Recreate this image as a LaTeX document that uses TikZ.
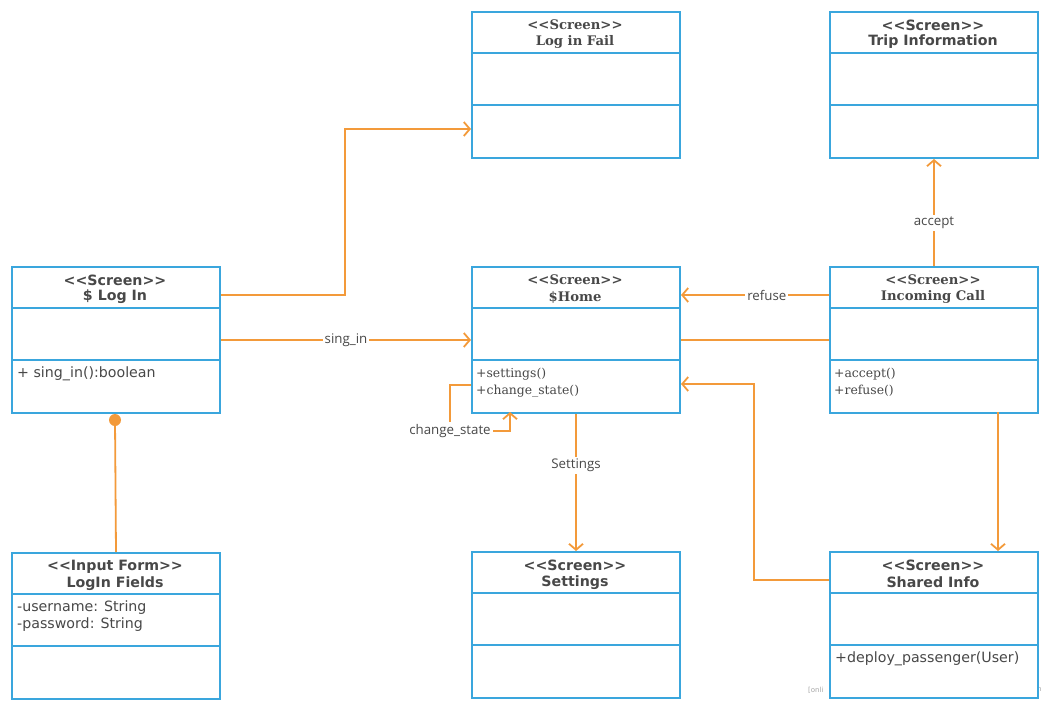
\documentclass[tikz,border=0pt]{standalone}
\usepackage{fontspec}
\setmainfont{DejaVu Sans}
\newfontfamily\serifface{DejaVu Serif}
\newfontfamily\labelface{Open Sans}
\usetikzlibrary{calc}
\usetikzlibrary{arrows.meta}
\definecolor{boxblue}{HTML}{3AA6DD}
\definecolor{linkorange}{HTML}{F39A3A}
\definecolor{txtgray}{HTML}{484848}
\tikzstyle{umlbox}=[draw=boxblue,line width=2pt,fill=white,anchor=north west,minimum width=208pt,minimum height=146pt,inner sep=0pt]
\tikzstyle{umlsep}=[draw=boxblue,line width=2pt]
\tikzstyle{sanshead}=[text=txtgray,font=\fontsize{14.2}{16}\selectfont\bfseries,inner sep=0pt]
\tikzstyle{serifhead}=[text=txtgray,font=\fontsize{13.2}{15}\serifface\bfseries,inner sep=0pt]
\tikzstyle{sansbody}=[text=txtgray,font=\fontsize{14.2}{16}\selectfont,anchor=west,inner sep=0pt]
\tikzstyle{serifbody}=[text=txtgray,font=\fontsize{12.4}{14}\serifface,anchor=west,inner sep=0pt]
\tikzstyle{link}=[draw=linkorange,line width=1.8pt]
\tikzstyle{arr}=[link,-{Straight Barb[length=6pt,width=14pt,line width=1.8pt]}]
\tikzstyle{linklabel}=[fill=white,text=txtgray,font=\fontsize{13.3}{15}\labelface,inner sep=2pt]

\begin{document}
\begin{tikzpicture}[x=1pt,y=-1pt]
\useasboundingbox (0,0) rectangle (1047,706);
% watermark, mostly hidden behind the boxes
\node[text=gray!70,font=\fontsize{7}{8}\selectfont,anchor=west,inner sep=0pt] (wm) at (808,690) {[onli};
\node[text=gray!70,font=\fontsize{7}{8}\selectfont,anchor=west,inner sep=0pt] (wm2) at (1037,690) {n};

% ---- boxes ----
\begin{scope}[shift={(471,11)}]
	\node[umlbox] (fail) at (0,0) {};
	\draw[umlsep] (0,42)--(208,42);
	\draw[umlsep] (0,94)--(208,94);
	\node[serifhead] at (104,14) {<{}<Screen>{}>};
	\node[serifhead] at (104,31) {Log in Fail};
\end{scope}
\begin{scope}[shift={(829,11)}]
	\node[umlbox] (trip) at (0,0) {};
	\draw[umlsep] (0,42)--(208,42);
	\draw[umlsep] (0,94)--(208,94);
	\node[sanshead] at (104,14) {<{}<Screen>{}>};
	\node[sanshead] at (104,31) {Trip Information};
\end{scope}
\begin{scope}[shift={(11,266)}]
	\node[umlbox] (login) at (0,0) {};
	\draw[umlsep] (0,42)--(208,42);
	\draw[umlsep] (0,94)--(208,94);
	\node[sanshead] at (104,14) {<{}<Screen>{}>};
	\node[sanshead] at (104,31) {\$ Log In};
	\node[sansbody] at (6,108) {+ sing\_in():boolean};
\end{scope}
\begin{scope}[shift={(471,266)}]
	\node[umlbox] (home) at (0,0) {};
	\draw[umlsep] (0,42)--(208,42);
	\draw[umlsep] (0,94)--(208,94);
	\node[serifhead] at (104,14) {<{}<Screen>{}>};
	\node[serifhead] at (104,31) {\$Home};
	\node[serifbody] at (5,108) {+settings()};
	\node[serifbody] at (5,125) {+change\_state()};
\end{scope}
\begin{scope}[shift={(829,266)}]
	\node[umlbox] (call) at (0,0) {};
	\draw[umlsep] (0,42)--(208,42);
	\draw[umlsep] (0,94)--(208,94);
	\node[serifhead] at (104,14) {<{}<Screen>{}>};
	\node[serifhead] at (104,31) {Incoming Call};
	\node[serifbody] at (5,108) {+accept()};
	\node[serifbody] at (5,125) {+refuse()};
\end{scope}
\begin{scope}[shift={(11,552)}]
	\node[umlbox] (fields) at (0,0) {};
	\draw[umlsep] (0,42)--(208,42);
	\draw[umlsep] (0,94)--(208,94);
	\node[sanshead] at (104,14.5) {<{}<Input Form>{}>};
	\node[sanshead] at (104,31.5) {LogIn Fields};
	\node[sansbody] at (6,56) {-username: String};
	\node[sansbody] at (6,73) {-password: String};
\end{scope}
\begin{scope}[shift={(471,551)}]
	\node[umlbox] (settings) at (0,0) {};
	\draw[umlsep] (0,42)--(208,42);
	\draw[umlsep] (0,94)--(208,94);
	\node[sanshead] at (104,14.5) {<{}<Screen>{}>};
	\node[sanshead] at (104,31.5) {Settings};
\end{scope}
\begin{scope}[shift={(829,551)}]
	\node[umlbox] (shared) at (0,0) {};
	\draw[umlsep] (0,42)--(208,42);
	\draw[umlsep] (0,94)--(208,94);
	\node[sanshead] at (104,14.5) {<{}<Screen>{}>};
	\node[sanshead] at (104,31.5) {Shared Info};
	\node[sansbody] at (6,108) {+deploy\_passenger(User)};
\end{scope}

% ---- links ----
\draw[arr] (login.east |- 0,295) -| (345,129) -- (fail.west |- 0,129);
\draw[arr] (login.east) -- (home.west) node[linklabel,midway]{sing\_in};
\draw[arr] (home.west |- 0,385) -| (450,431) node[linklabel]{change\_state} -| (510,412);
\draw[arr] (home.south) -- (settings.north) node[linklabel,pos=0.375]{Settings};
\draw[arr] (call.west |- 0,295) -- (home.east |- 0,295) node[linklabel,pos=0.42]{refuse};
\draw[link] (home.east) -- (call.west);
\draw[arr] (call.north) -- (trip.south) node[linklabel,pos=0.4]{accept};
\draw[arr] (998,412) -- (998,551);
\draw[arr] (shared.west |- 0,580) -| (754,384) -- (home.east |- 0,384);
\coordinate (dot) at (115,420);
\draw[link] (fields.north) -- (dot);
\fill[linkorange] (dot) circle (6pt);
%\draw[link] (login.south) -- (dot);
\end{tikzpicture}
\end{document}
